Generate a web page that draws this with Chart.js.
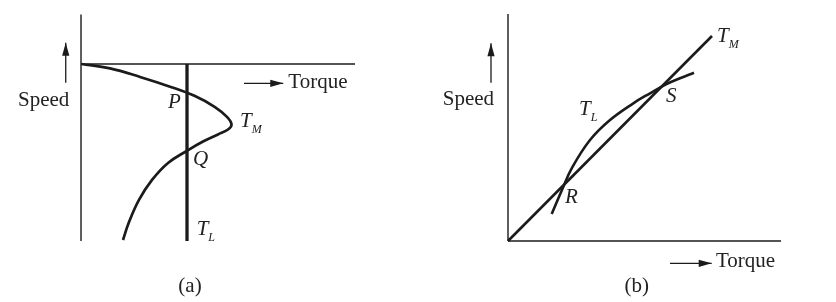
<!DOCTYPE html>
<html>
<head>
<meta charset="utf-8">
<script src="https://cdn.jsdelivr.net/npm/chart.js@4.4.1/dist/chart.umd.min.js"></script>
<style>
  html, body { margin: 0; padding: 0; background: #fff; }
  #wrap { position: relative; width: 836px; height: 302px; }
  canvas { position: absolute; top: 0; }
  #cv-a { left: 0; }
  #cv-b { left: 418px; }
</style>
</head>
<body>
<div id="wrap">
  <canvas id="cv-a" width="418" height="302"></canvas>
  <canvas id="cv-b" width="418" height="302"></canvas>
</div>
<script>
/* Panel (a) : torque (x) / speed (y). T_L = 1, synchronous speed = 1 */
var A_TM_TORQUE = [0.003, 0.274, 0.557, 0.840, 1.075, 1.264, 1.377, 1.420, 1.387, 1.292, 1.151, 1.003, 0.821, 0.670, 0.547, 0.453, 0.396];
var A_TM_SPEED  = [1.000, 0.975, 0.927, 0.872, 0.819, 0.757, 0.701, 0.658, 0.630, 0.602, 0.562, 0.511, 0.441, 0.345, 0.232, 0.107, 0.006];
var A_TL_TORQUE = [1, 1];
var A_TL_SPEED  = [0, 1];
var A_AXIS_V    = { torque: [0, 0], speed: [0, 1.28] };
var A_AXIS_H    = { torque: [0, 2.585], speed: [1, 1] };
var A_ARROW_UP  = { torque: [-0.144, -0.144], speed: [0.894, 1.120] };
var A_ARROW_RT  = { torque: [1.538, 1.908], speed: [0.891, 0.891] };

/* Panel (b) */
var B_TM_TORQUE = [0, 2.04];
var B_TM_SPEED  = [0, 2.05];
var B_TL_TORQUE = [0.437, 0.547, 0.637, 0.820, 1.020, 1.253, 1.420, 1.580, 1.720, 1.860];
var B_TL_SPEED  = [0.270, 0.527, 0.727, 1.010, 1.210, 1.377, 1.477, 1.567, 1.627, 1.683];
var B_AXIS_V    = { torque: [0, 0], speed: [0, 2.27] };
var B_AXIS_H    = { torque: [0, 2.73], speed: [0, 0] };
var B_ARROW_UP  = { torque: [-0.17, -0.17], speed: [1.583, 1.977] };
var B_ARROW_RT  = { torque: [1.62, 2.037], speed: [-0.223, -0.223] };

var INK = '#1b1b1b';
var FONT = '"Liberation Serif", "DejaVu Serif", serif';

function pts(xs, ys) {
  return xs.map(function (x, i) { return { x: x, y: ys[i] }; });
}

function line(xs, ys, width, extra) {
  return Object.assign({
    data: pts(xs, ys),
    showLine: true,
    borderColor: INK,
    backgroundColor: INK,
    borderWidth: width,
    pointRadius: 0,
    fill: false,
    tension: 0,
    clip: false
  }, extra || {});
}

// arrow heads on datasets flagged with arrow: true
var arrowHeads = {
  id: 'arrowHeads',
  afterDatasetsDraw: function (chart) {
    var ctx = chart.ctx;
    chart.data.datasets.forEach(function (ds, i) {
      if (!ds.arrow) return;
      var el = chart.getDatasetMeta(i).data;
      var a = el[el.length - 2], b = el[el.length - 1];
      var ang = Math.atan2(b.y - a.y, b.x - a.x);
      ctx.save();
      ctx.translate(b.x, b.y);
      ctx.rotate(ang);
      ctx.fillStyle = INK;
      ctx.beginPath();
      ctx.moveTo(0, 0);
      ctx.lineTo(-13, -3.6);
      ctx.lineTo(-13, 3.6);
      ctx.closePath();
      ctx.fill();
      ctx.restore();
    });
  }
};

function textLabels(items) {
  return {
    id: 'textLabels',
    afterDatasetsDraw: function (chart) {
      var ctx = chart.ctx, xs = chart.scales.x, ys = chart.scales.y;
      ctx.save();
      ctx.fillStyle = '#222';
      ctx.textBaseline = 'alphabetic';
      items.forEach(function (it) {
        var px = xs.getPixelForValue(it.x), py = ys.getPixelForValue(it.y);
        ctx.font = (it.italic ? 'italic ' : '') + '21px ' + FONT;
        ctx.textAlign = it.align || 'left';
        ctx.fillText(it.text, px, py);
        if (it.sub) {
          var w = ctx.measureText(it.text).width;
          ctx.font = 'italic 12px ' + FONT;
          ctx.textAlign = 'left';
          ctx.fillText(it.sub, px + w, py + 6);
        }
      });
      ctx.restore();
    }
  };
}

function makeChart(id, datasets, xr, yr, labels) {
  return new Chart(document.getElementById(id), {
    type: 'scatter',
    data: { datasets: datasets },
    options: {
      responsive: false,
      animation: false,
      events: [],
      layout: { padding: 0 },
      plugins: { legend: { display: false }, tooltip: { enabled: false } },
      scales: {
        x: { type: 'linear', display: false, min: xr[0], max: xr[1] },
        y: { type: 'linear', display: false, min: yr[0], max: yr[1] }
      }
    },
    plugins: [arrowHeads, textLabels(labels)]
  });
}

makeChart('cv-a', [
  line(A_AXIS_V.torque, A_AXIS_V.speed, 1.4),
  line(A_AXIS_H.torque, A_AXIS_H.speed, 1.4),
  line(A_TL_TORQUE, A_TL_SPEED, 3.3),
  line(A_TM_TORQUE, A_TM_SPEED, 2.7, { tension: 0.4 }),
  line(A_ARROW_UP.torque, A_ARROW_UP.speed, 1.3, { arrow: true }),
  line(A_ARROW_RT.torque, A_ARROW_RT.speed, 1.3, { arrow: true })
], [-0.7642, 3.1792], [-0.3446, 1.3616], [
  { text: 'Speed', x: -0.594, y: 0.763 },
  { text: 'Torque', x: 1.956, y: 0.864 },
  { text: 'P', x: 0.821, y: 0.751, italic: true },
  { text: 'Q', x: 1.057, y: 0.429, italic: true },
  { text: 'T', sub: 'M', x: 1.50, y: 0.644, italic: true },
  { text: 'T', sub: 'L', x: 1.091, y: 0.034, italic: true },
  { text: '(a)', x: 1.028, y: -0.288, align: 'center' }
]);

makeChart('cv-b', [
  line(B_AXIS_V.torque, B_AXIS_V.speed, 1.4),
  line(B_AXIS_H.torque, B_AXIS_H.speed, 1.4),
  line(B_TM_TORQUE, B_TM_SPEED, 2.6),
  line(B_TL_TORQUE, B_TL_SPEED, 2.6, { tension: 0.4 }),
  line(B_ARROW_UP.torque, B_ARROW_UP.speed, 1.3, { arrow: true }),
  line(B_ARROW_RT.torque, B_ARROW_RT.speed, 1.3, { arrow: true })
], [-0.90, 3.28], [-0.61, 2.41], [
  { text: 'Speed', x: -0.653, y: 1.36 },
  { text: 'Torque', x: 2.08, y: -0.26 },
  { text: 'R', x: 0.57, y: 0.38, italic: true },
  { text: 'S', x: 1.58, y: 1.39, italic: true },
  { text: 'T', sub: 'L', x: 0.71, y: 1.26, italic: true },
  { text: 'T', sub: 'M', x: 2.09, y: 1.99, italic: true },
  { text: '(b)', x: 1.287, y: -0.51, align: 'center' }
]);
</script>
</body>
</html>
